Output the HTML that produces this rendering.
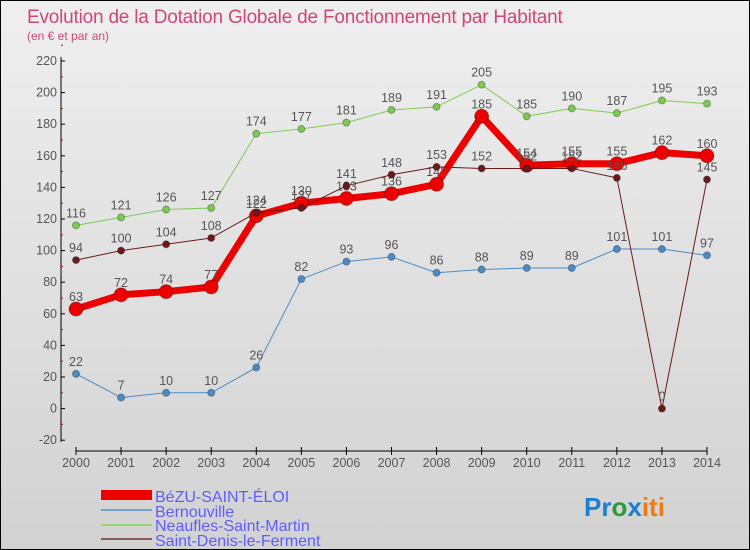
<!DOCTYPE html>
<html><head><meta charset="utf-8"><style>
body{margin:0}
#c{width:750px;height:550px;position:relative;background:linear-gradient(#efefef,#d2d2d2);box-sizing:border-box;border:1px solid #000;font-family:"Liberation Sans",sans-serif;overflow:hidden}
</style></head><body>
<div id="c">
<svg id="s" width="750" height="550" style="position:absolute;left:0;top:0">
<text x="26" y="22" font-size="19" fill="#d0457a" letter-spacing="-0.2">Evolution de la Dotation Globale de Fonctionnement par Habitant</text>
<text x="26" y="39" font-size="12" fill="#d0457a">(en € et par an)</text>
<g id="plot"></g>
<g>
<rect x="100" y="489" width="51" height="10" fill="#e00"/>
<line x1="100" y1="509" x2="151" y2="509" stroke="#6fa2cc" stroke-width="2"/>
<line x1="100" y1="524" x2="151" y2="524" stroke="#8fd66f" stroke-width="2"/>
<line x1="100" y1="538" x2="151" y2="538" stroke="#8b5a5a" stroke-width="2"/>
<text x="154" y="501" font-size="16" fill="#5d5dff">BéZU-SAINT-ÉLOI</text>
<text x="154" y="516" font-size="16" fill="#5d5dff">Bernouville</text>
<text x="154" y="530" font-size="16" fill="#5d5dff">Neaufles-Saint-Martin</text>
<text x="154" y="545" font-size="16" fill="#5d5dff">Saint-Denis-le-Ferment</text>
</g>
<text x="583" y="515" font-size="26" font-weight="bold"><tspan fill="#1a7fd0">Pr</tspan><tspan fill="#2a9a3a">o</tspan><tspan fill="#1a7fd0">x</tspan><tspan fill="#f07a10">iti</tspan></text>
</svg>
</div>
<script>
const years=[2000,2001,2002,2003,2004,2005,2006,2007,2008,2009,2010,2011,2012,2013,2014];
const yTicks=[-20,0,20,40,60,80,100,120,140,160,180,200,220];
const bezu=[63,72,74,77,122,130,133,136,142,185,154,155,155,162,160];
const bernouville=[22,7,10,10,26,82,93,96,86,88,89,89,101,101,97];
const neaufles=[116,121,126,127,174,177,181,189,191,205,185,190,187,195,193];
const saintDenis=[94,100,104,108,124,127,141,148,153,152,152,152,146,0,145];
const NS="http://www.w3.org/2000/svg";
const g=document.getElementById('plot');
function X(i){return 75+i*(706-75)/14;}
function Y(v){return 407.6-v*1.58;}
function el(t,a,p){const e=document.createElementNS(NS,t);for(const k in a)e.setAttribute(k,a[k]);(p||g).appendChild(e);return e;}
let ax=el('line',{x1:60,y1:56,x2:60,y2:441,stroke:'#000','stroke-width':1});


yTicks.forEach(v=>{
 let t=el('line',{x1:60,y1:Y(v),x2:64,y2:Y(v),stroke:'#000'});
 
 
 let m=el('line',{x1:60,y1:Y(v+10),x2:62,y2:Y(v+10),stroke:'#c00'});
 
 
 let l=el('text',{x:56,y:Y(v)+4,'font-size':12.5,fill:'#555','text-anchor':'end'});
 l.textContent=v;
 
 
});
let xa=el('line',{x1:75,y1:450,x2:706,y2:450,stroke:'#000'});


years.forEach((y,i)=>{
 let t=el('line',{x1:X(i),y1:446,x2:X(i),y2:454,stroke:'#000'});
 
 
 let l=el('text',{x:X(i),y:466,'font-size':12.5,fill:'#555','text-anchor':'middle'});
 l.textContent=y;
 
 
});
function series(d,color,w,r,name){
 const sg=el('g',{});
 
 
 let p=el('polyline',{points:d.map((v,i)=>X(i)+','+Y(v)).join(' '),fill:'none',stroke:color,'stroke-width':w,'stroke-linejoin':'round'},sg);
 
 
 d.forEach((v,i)=>{
  let c=el('circle',{cx:X(i),cy:Y(v),r:r,fill:color,stroke:'rgba(0,0,0,0.3)'},sg);
  
  
  let t=el('text',{x:X(i),y:Y(v)-8,'font-size':12.5,fill:'#555','text-anchor':'middle'},sg);
  t.textContent=v;
  
  
 });
}
series(bernouville,'#4a8cc6',1,3.5,'bernouville');
series(neaufles,'#7ccc50',1,3.5,'neaufles');
series(bezu,'#ee0000',7,7,'bezu');
series(saintDenis,'#6b1a1a',1,3.5,'saint-denis');
</script>
</body></html>
